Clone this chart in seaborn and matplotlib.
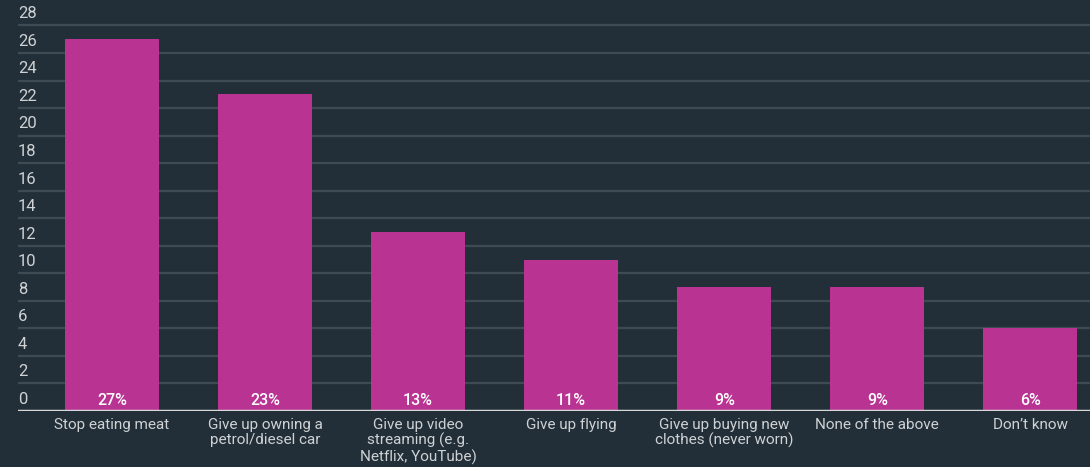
import matplotlib
matplotlib.use("Agg")
import matplotlib.pyplot as plt
import pandas as pd
import seaborn as sns

# Survey answers (share of respondents, %)
categories = ["Stop eating meat",
              "Give up owning a\npetrol/diesel car",
              "Give up video\nstreaming (e.g.\nNetflix, YouTube)",
              "Give up flying",
              "Give up buying new\nclothes (never worn)",
              "None of the above",
              "Don\u2019t know"]
values = [27, 23, 13, 11, 9, 9, 6]
yticks = list(range(0, 29, 2))

bg = "#222f38"
bar_color = "#b83392"
text_color = "#cfd2d4"
grid_color = "#3e4b54"

sns.set_theme(style="dark")
plt.rcParams["font.family"] = ["Roboto", "DejaVu Sans"]

df = pd.DataFrame({"answer": categories, "pct": values})

fig = plt.figure(figsize=(10.9, 4.67), dpi=100, facecolor=bg)
ax = fig.add_axes([18 / 1090, 56 / 467, 1072 / 1090, 411 / 467])
ax.set_facecolor(bg)

sns.barplot(data=df, x="answer", y="pct", color=bar_color, saturation=1,
            width=0.614, linewidth=0, ax=ax, zorder=3)

ax.set_xlim(-0.614, 6.39)
ax.set_ylim(0, 29.85)

# grid lines with labels sitting on top of them
for t in yticks:
    if t == 0:
        ax.axhline(0, color="#d8d8d8", lw=2.5, zorder=4)
    else:
        ax.axhline(t, color=grid_color, lw=1.6, zorder=1)
    ax.text(0, t + 0.3, str(t), transform=ax.get_yaxis_transform(),
            ha="left", va="bottom", color=text_color, fontsize=12, zorder=5)

# value labels at the bottom of each bar
for i, v in enumerate(values):
    ax.text(i, 0.25, f"{v}%", ha="center", va="bottom", color="white",
            fontsize=11.5, fontweight="medium", zorder=5)

ax.set_yticks([])
ax.set_xticks(range(len(categories)))
ax.set_xticklabels(categories, color=text_color, fontsize=11,
                   linespacing=1.1, va="top")
ax.tick_params(axis="x", length=0, pad=5)
ax.set_xlabel("")
ax.set_ylabel("")
for s in ax.spines.values():
    s.set_visible(False)

fig.savefig("out.png", dpi=100, facecolor=bg)
